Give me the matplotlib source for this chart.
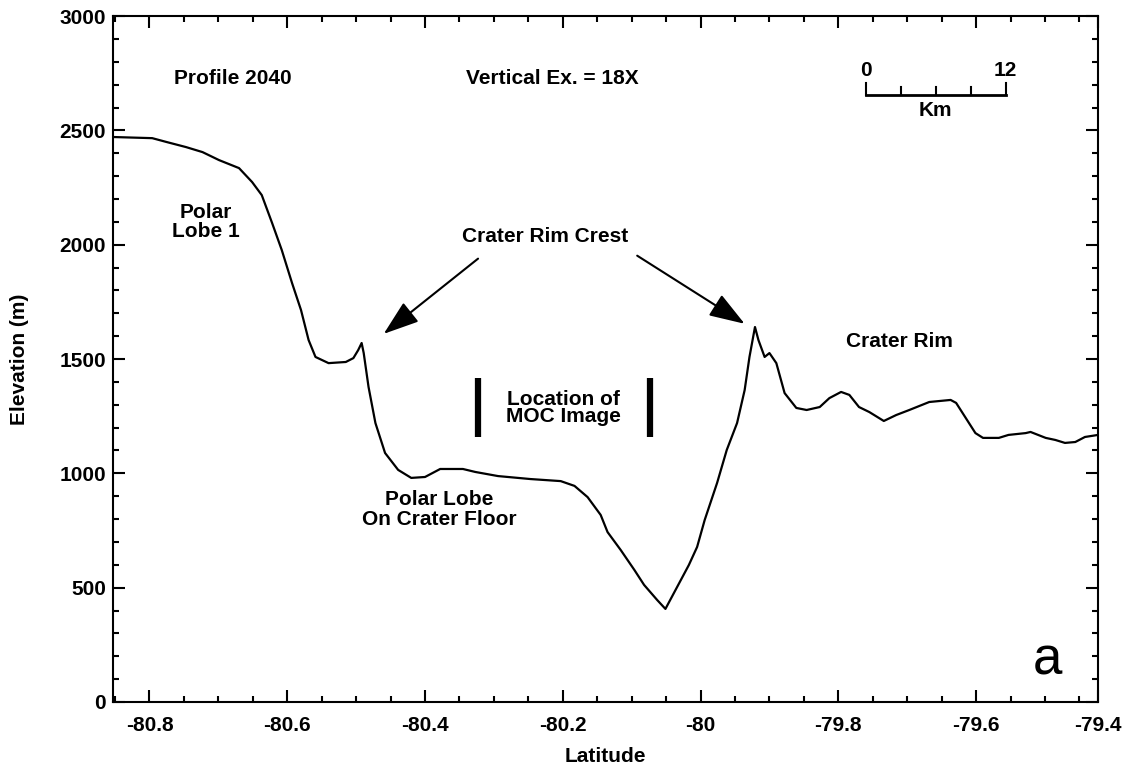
import matplotlib
matplotlib.use("Agg")
import matplotlib.pyplot as plt

plt.rcParams['font.family'] = ['Liberation Sans', 'DejaVu Sans']

# profile 2040 elevation
lat = [-80.853, -80.796, -80.775, -80.747, -80.723, -80.699, -80.670, -80.651,
       -80.637, -80.622, -80.608, -80.593, -80.580, -80.569, -80.559, -80.540,
       -80.515, -80.504, -80.497, -80.492, -80.489, -80.482, -80.472, -80.458,
       -80.439, -80.420, -80.400, -80.378, -80.345, -80.327, -80.294, -80.247,
       -80.203, -80.183, -80.164, -80.145, -80.135, -80.116, -80.096, -80.082,
       -80.063, -80.051, -80.034, -80.017, -80.005, -79.994, -79.976, -79.962,
       -79.947, -79.936, -79.929, -79.921, -79.916, -79.907, -79.900, -79.890,
       -79.878, -79.861, -79.846, -79.827, -79.813, -79.796, -79.784, -79.770,
       -79.755, -79.734, -79.716, -79.697, -79.668, -79.637, -79.629, -79.601,
       -79.590, -79.567, -79.553, -79.528, -79.521, -79.499, -79.485, -79.471,
       -79.456, -79.442, -79.423]
elev = [2471, 2466, 2449, 2427, 2405, 2370, 2335, 2274,
        2217, 2095, 1977, 1832, 1714, 1583, 1509, 1482,
        1487, 1504, 1539, 1570, 1526, 1378, 1220, 1089,
        1015, 980, 984, 1019, 1019, 1006, 988, 975,
        966, 945, 896, 818, 743, 665, 577, 512,
        446, 407, 503, 599, 678, 796, 958, 1102,
        1220, 1364, 1509, 1640, 1583, 1509, 1526, 1482,
        1351, 1286, 1277, 1290, 1329, 1356, 1343, 1290,
        1268, 1229, 1255, 1277, 1312, 1321, 1308, 1176,
        1155, 1155, 1168, 1176, 1181, 1155, 1146, 1133,
        1137, 1159, 1168]

xticks = [-80.8, -80.6, -80.4, -80.2, -80.0, -79.8, -79.6, -79.423]
xticklabels = ['-80.8', '-80.6', '-80.4', '-80.2', '-80', '-79.8', '-79.6', '-79.4']
yticks = [0, 500, 1000, 1500, 2000, 2500, 3000]

# MOC image location and crater rim crest arrows
moc_left = -80.323
moc_right = -80.073
moc_low, moc_high = 1160, 1418
crest_start = [(-80.323, 1939), (-80.092, 1952)]
crest_tips = [(-80.460, 1610), (-79.936, 1654)]

# scale bar (0-12 km)
bar_x0, bar_x1 = -79.760, -79.557
bar_y = 2654

fig = plt.figure(figsize=(11.24, 7.65), dpi=100)
ax = fig.add_axes([0.1005, 0.0824, 0.8764, 0.8966])

ax.plot(lat, elev, color='black', lw=1.6)

ax.set_xlim(-80.853, -79.423)
ax.set_ylim(0, 3000)
ax.set_xticks(xticks)
ax.set_xticklabels(xticklabels)
ax.set_yticks(yticks)
ax.set_xticks([-80.85 + 0.05 * i for i in range(29) if -80.853 < -80.85 + 0.05 * i < -79.43], minor=True)
ax.set_yticks(range(0, 3001, 100), minor=True)

for s in ax.spines.values():
    s.set_linewidth(1.5)
ax.tick_params(which='both', direction='in', top=True, right=True, width=1.5)
ax.tick_params(which='major', length=8.5)
ax.tick_params(which='minor', length=4.5)
ax.tick_params(axis='x', which='major', pad=10)
ax.tick_params(axis='y', which='major', pad=5)
for t in ax.get_xticklabels() + ax.get_yticklabels():
    t.set_fontsize(15)
    t.set_fontweight('bold')

ax.set_xlabel('Latitude', fontsize=15, fontweight='bold', labelpad=9)
ax.set_ylabel('Elevation (m)', fontsize=15, fontweight='bold', labelpad=22)

bold = dict(fontsize=15, fontweight='bold', ha='center', va='center')
ax.text(-80.679, 2728, 'Profile 2040', **bold)
ax.text(-80.215, 2728, 'Vertical Ex. = 18X', **bold)
ax.text(-80.718, 2100, 'Polar\nLobe 1', linespacing=1.0, **bold)
ax.text(-80.226, 2035, 'Crater Rim Crest', **bold)
ax.text(-80.199, 1285, 'Location of\nMOC Image', linespacing=0.9, **bold)
ax.text(-80.379, 842, 'Polar Lobe\nOn Crater Floor', linespacing=1.05, **bold)
ax.text(-79.712, 1575, 'Crater Rim', **bold)
ax.text(-79.497, 118, 'a', fontsize=38, ha='center', va='baseline')

for st, tp in zip(crest_start, crest_tips):
    ax.annotate('', xy=tp, xytext=st,
                arrowprops=dict(arrowstyle='-|>,head_length=1.1,head_width=0.38',
                                mutation_scale=20, lw=1.5, color='black',
                                shrinkA=0, shrinkB=0))

ax.plot([moc_left, moc_left], [moc_low, moc_high], color='black', lw=4.5, solid_capstyle='butt')
ax.plot([moc_right, moc_right], [moc_low, moc_high], color='black', lw=4.5, solid_capstyle='butt')

# scale bar
ax.plot([bar_x0, bar_x1], [bar_y, bar_y], color='black', lw=2)
step = (bar_x1 - bar_x0) / 4
for i in range(5):
    top = 2706 if i in (0, 4) else 2689
    ax.plot([bar_x0 + i * step] * 2, [bar_y, top], color='black', lw=1.5)
ax.text(bar_x0, 2762, '0', **bold)
ax.text(bar_x1, 2762, '12', **bold)
ax.text((bar_x0 + bar_x1) / 2, 2585, 'Km', **bold)

fig.savefig('out.png', dpi=100)
